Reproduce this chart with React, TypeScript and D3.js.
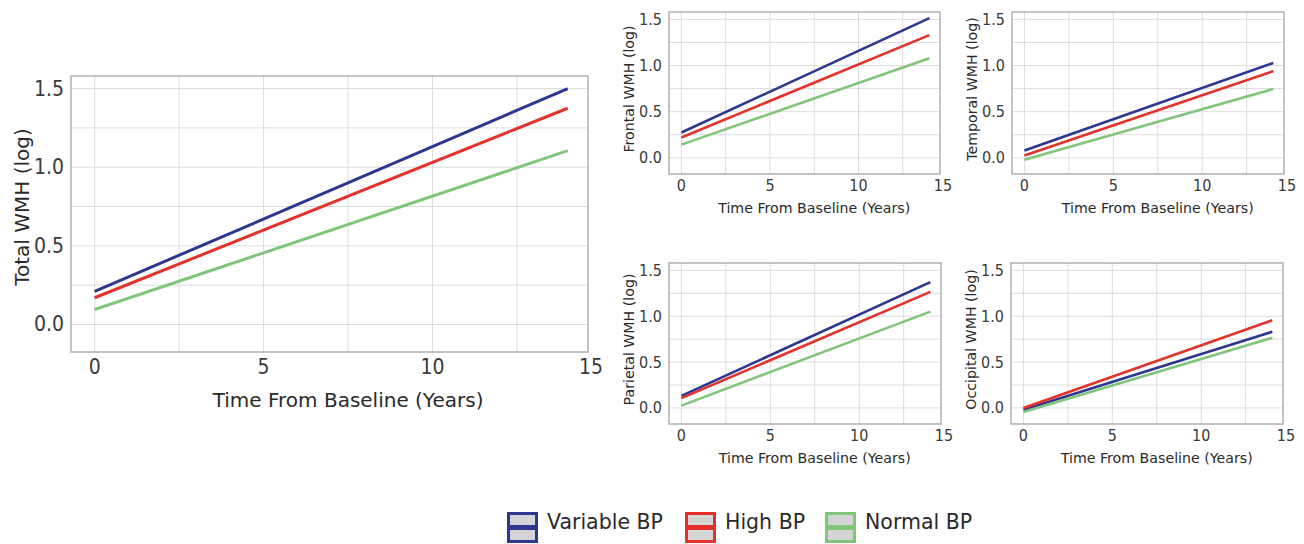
import React from 'react';
import * as d3 from 'd3';

// time axis of every fitted line
const timeYears = [0, 14];

const seriesNames = ['Variable BP', 'High BP', 'Normal BP'];
const seriesColors = ['#2e3790', '#e3312b', '#80c57a'];

// fitted values at year 0 and year 14, one array per group
const totalVariable = [0.21, 1.5];
const totalHigh = [0.17, 1.375];
const totalNormal = [0.095, 1.105];

const frontalVariable = [0.274, 1.514];
const frontalHigh = [0.22, 1.33];
const frontalNormal = [0.143, 1.078];

const temporalVariable = [0.08, 1.028];
const temporalHigh = [0.025, 0.94];
const temporalNormal = [-0.02, 0.745];

const parietalVariable = [0.132, 1.372];
const parietalHigh = [0.107, 1.265];
const parietalNormal = [0.025, 1.05];

const occipitalVariable = [-0.02, 0.83];
const occipitalHigh = [0.0, 0.955];
const occipitalNormal = [-0.045, 0.765];

const xTicks = [0, 5, 10, 15];
const xMinor = [2.5, 7.5, 12.5];
const yTicks = [0, 0.5, 1.0, 1.5];
const yMinor = [0.25, 0.75, 1.25];

const xDomain = [-0.7, 14.6];
const yDomain = [-0.175, 1.58];

const FONT = '"DejaVu Sans", sans-serif';
const FONT_TICK = '"DejaVu Sans Condensed", "DejaVu Sans", sans-serif';

type PanelProps = {
  box: { left: number; top: number; right: number; bottom: number };
  series: number[][];
  yTitle: string;
  big?: boolean;
};

function Panel({ box, series, yTitle, big }: PanelProps) {
  const x = d3.scaleLinear().domain(xDomain).range([box.left, box.right]);
  const y = d3.scaleLinear().domain(yDomain).range([box.bottom, box.top]);
  const line = d3
    .line<number>()
    .x((d, i) => x(timeYears[i]))
    .y((d) => y(d));

  const tickSize = big ? 21 : 16;
  const titleSize = big ? 20 : 14.2;
  const xLabelY = box.bottom + (big ? 15 : 11);
  const xTitleY = box.bottom + (big ? 48 : 34);
  const yTitleX = box.left - (big ? 49 : 40);
  const titleCx = (x(0) + x(15)) / 2;
  const midY = (box.top + box.bottom) / 2 - (big ? 7 : 4);

  return (
    <g>
      <rect x={box.left} y={box.top} width={box.right - box.left} height={box.bottom - box.top} fill="#fff" />
      {[...xTicks, ...xMinor]
        .filter((v) => x(v) > box.left && x(v) < box.right)
        .map((v) => (
          <line key={`gx${v}`} x1={x(v)} x2={x(v)} y1={box.top} y2={box.bottom} stroke="#dcdcdc" strokeWidth={1} />
        ))}
      {[...yTicks, ...yMinor].map((v) => (
        <line key={`gy${v}`} x1={box.left} x2={box.right} y1={y(v)} y2={y(v)} stroke="#dcdcdc" strokeWidth={1} />
      ))}
      {series.map((s, i) => (
        <path key={i} d={line(s) || ''} fill="none" stroke={seriesColors[i]} strokeWidth={big ? 3 : 2.6} />
      ))}
      <rect
        x={box.left}
        y={box.top}
        width={box.right - box.left}
        height={box.bottom - box.top}
        fill="none"
        stroke="#b4b4b4"
        strokeWidth={1.6}
      />
      {yTicks.map((v) => (
        <text
          key={`ty${v}`}
          x={box.left - 7}
          y={y(v)}
          textAnchor="end"
          dominantBaseline="central"
          fontFamily={FONT_TICK}
          fontSize={tickSize}
          fill="#3a3a3a"
        >
          {d3.format('.1f')(v)}
        </text>
      ))}
      {xTicks.map((v) => (
        <text
          key={`tx${v}`}
          x={Math.min(x(v), box.right + 3)}
          y={xLabelY}
          textAnchor="middle"
          dominantBaseline="central"
          fontFamily={FONT_TICK}
          fontSize={tickSize}
          fill="#3a3a3a"
        >
          {v}
        </text>
      ))}
      <text
        x={titleCx}
        y={xTitleY}
        textAnchor="middle"
        dominantBaseline="central"
        fontFamily={FONT}
        fontSize={titleSize}
        fill="#2a2a2a"
      >
        Time From Baseline (Years)
      </text>
      <text
        transform={`translate(${yTitleX},${midY}) rotate(-90)`}
        textAnchor="middle"
        dominantBaseline="central"
        fontFamily={FONT}
        fontSize={titleSize}
        fill="#2a2a2a"
      >
        {yTitle}
      </text>
    </g>
  );
}

function Legend() {
  const itemX = [507, 685, 825];
  const boxTop = 512;
  const size = 31;
  return (
    <g>
      {seriesNames.map((name, i) => (
        <g key={name} transform={`translate(${itemX[i]},${boxTop})`}>
          <rect x={1.5} y={1.5} width={size - 3} height={size - 3} fill="#d4d4d4" stroke={seriesColors[i]} strokeWidth={3} />
          <line x1={1.5} x2={size - 1.5} y1={size / 2} y2={size / 2} stroke={seriesColors[i]} strokeWidth={5} />
          <text x={size + 9} y={10} dominantBaseline="central" fontFamily={FONT} fontSize={20.5} fill="#2a2a2a">
            {name}
          </text>
        </g>
      ))}
    </g>
  );
}

export default function App() {
  return (
    <svg
      width={1304}
      height={544}
      style={{ position: 'absolute', left: 0, top: 0, background: '#fff' }}
    >
      <Panel
        big
        box={{ left: 71, top: 76, right: 588, bottom: 352 }}
        series={[totalVariable, totalHigh, totalNormal]}
        yTitle="Total WMH (log)"
      />
      <Panel
        box={{ left: 669, top: 12, right: 940, bottom: 174 }}
        series={[frontalVariable, frontalHigh, frontalNormal]}
        yTitle="Frontal WMH (log)"
      />
      <Panel
        box={{ left: 1012, top: 12, right: 1284, bottom: 174 }}
        series={[temporalVariable, temporalHigh, temporalNormal]}
        yTitle="Temporal WMH (log)"
      />
      <Panel
        box={{ left: 669, top: 263, right: 941, bottom: 424 }}
        series={[parietalVariable, parietalHigh, parietalNormal]}
        yTitle="Parietal WMH (log)"
      />
      <Panel
        box={{ left: 1011, top: 263, right: 1283, bottom: 424 }}
        series={[occipitalVariable, occipitalHigh, occipitalNormal]}
        yTitle="Occipital WMH (log)"
      />
      <Legend />
    </svg>
  );
}
